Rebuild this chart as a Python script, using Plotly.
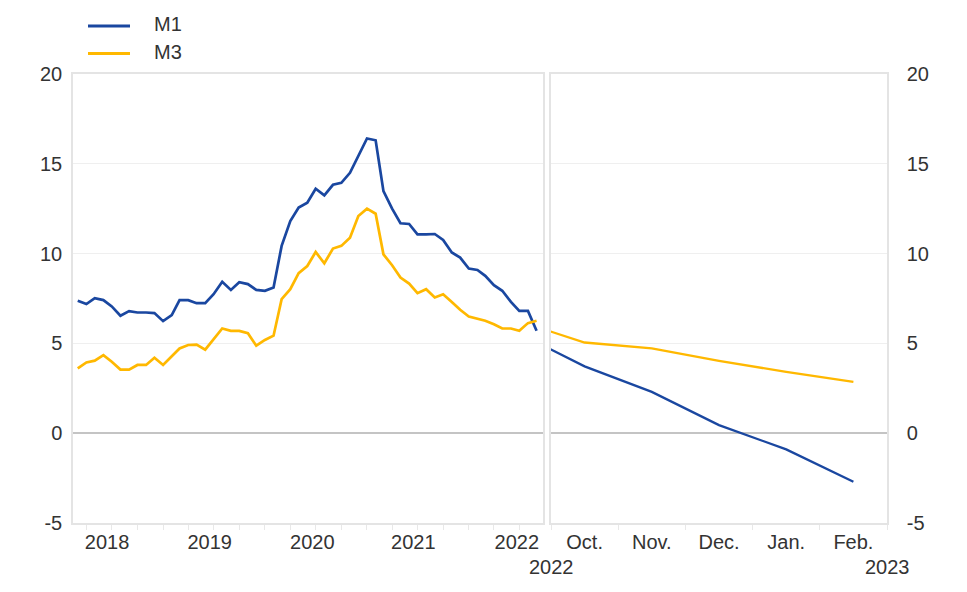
import plotly.graph_objects as go
import pandas as pd

# ---- data: left panel (monthly, Mar 2018 - Sep 2022) ----
hist_months = pd.date_range("2018-03-01", "2022-09-01", freq="MS")
m1_hist = [7.37, 7.19, 7.52, 7.41, 7.06, 6.54, 6.80, 6.72, 6.72, 6.69,
           6.24, 6.57, 7.41, 7.41, 7.24, 7.24, 7.74, 8.43, 7.98, 8.41,
           8.30, 7.98, 7.93, 8.11, 10.43, 11.81, 12.56, 12.83, 13.61, 13.24,
           13.83, 13.94, 14.50, 15.43, 16.41, 16.31, 13.48, 12.50, 11.69, 11.65,
           11.07, 11.07, 11.09, 10.76, 10.06, 9.78, 9.17, 9.09, 8.76, 8.24,
           7.93, 7.31, 6.81, 6.81, 5.70]
m3_hist = [3.61, 3.94, 4.04, 4.35, 3.98, 3.54, 3.54, 3.80, 3.80, 4.20,
           3.80, 4.26, 4.72, 4.91, 4.93, 4.65, 5.24, 5.83, 5.70, 5.70,
           5.57, 4.87, 5.19, 5.43, 7.46, 8.02, 8.91, 9.31, 10.09, 9.46,
           10.28, 10.43, 10.89, 12.09, 12.50, 12.22, 9.96, 9.35, 8.67, 8.33,
           7.80, 8.02, 7.56, 7.74, 7.31, 6.87, 6.50, 6.39, 6.26, 6.07,
           5.83, 5.83, 5.70, 6.13, 6.26]

# ---- data: right panel (Sep 2022 - Feb 2023) ----
recent_months = ["Sep.", "Oct.", "Nov.", "Dec.", "Jan.", "Feb."]
m1_recent = [5.60, 3.72, 2.30, 0.45, -0.90, -2.70]
m3_recent = [6.26, 5.05, 4.72, 4.03, 3.41, 2.86]

series_names = ["M1", "M3"]
year_labels = ["2018", "2019", "2020", "2021", "2022"]
year_tick_pos = ["2018-06-14", "2019-06-17", "2020-06-19", "2021-06-16", "2022-06-22"]
y_ticks = [-5, 0, 5, 10, 15, 20]
y_tick_text = ["-5", "0", "5", "10", "15", "20"]

BLUE = "#1a47a0"
YELLOW = "#ffb800"
GRID = "#efefef"
BORDER = "#e4e4e4"
TXT = "#333333"
FONT = "Liberation Sans, Arial, sans-serif"
FS = 20
COLORS = [BLUE, YELLOW]

fig = go.Figure()
fig.add_trace(go.Scatter(x=hist_months, y=m1_hist, mode="lines", name=series_names[0],
                         showlegend=False,
                         line=dict(color=BLUE, width=2.7), xaxis="x", yaxis="y"))
fig.add_trace(go.Scatter(x=hist_months, y=m3_hist, mode="lines", name=series_names[1],
                         showlegend=False,
                         line=dict(color=YELLOW, width=2.7), xaxis="x", yaxis="y"))
fig.add_trace(go.Scatter(x=recent_months, y=m1_recent, mode="lines", name=series_names[0],
                         showlegend=False, line=dict(color=BLUE, width=2.3),
                         xaxis="x2", yaxis="y2"))
fig.add_trace(go.Scatter(x=recent_months, y=m3_recent, mode="lines", name=series_names[1],
                         showlegend=False, line=dict(color=YELLOW, width=2.3),
                         xaxis="x2", yaxis="y2"))

W, H = 951, 576
L0, L1, R0, R1 = 65, 535, 543, 879
TOP, BOT = 66, 515
PH = BOT - TOP

common_y = dict(range=[-5, 20], tickvals=y_ticks, ticktext=y_tick_text,
                showgrid=True, gridcolor=GRID,
                gridwidth=1, zeroline=True, zerolinecolor="#c4c4c4", zerolinewidth=2,
                showline=True, linecolor=BORDER, linewidth=1.5, mirror=True,
                ticks="", tickfont=dict(size=FS, color=TXT, family=FONT))

fig.update_layout(
    width=W, height=H,
    margin=dict(l=0, r=0, t=TOP, b=H - BOT),
    paper_bgcolor="white", plot_bgcolor="white",
    font=dict(family=FONT, size=FS, color=TXT),
    showlegend=False,
    xaxis=dict(domain=[L0 / W, L1 / W], type="date",
               range=["2018-02-12", "2022-09-24"],
               tickvals=year_tick_pos, ticktext=year_labels,
               ticks="", showgrid=False, zeroline=False,
               showline=True, linecolor=BORDER, linewidth=1.5, mirror=True,
               tickfont=dict(size=FS, color=TXT, family=FONT),
               minor=dict(tickmode="linear", tick0="2018-01-01", dtick="M3",
                          ticks="outside", ticklen=5, tickcolor="#e8e8e8",
                          tickwidth=1, showgrid=False),
               anchor="y"),
    yaxis=dict(domain=[0, 1], anchor="x", side="left", ticklabelstandoff=5,
               **common_y),
    xaxis2=dict(domain=[R0 / W, R1 / W], type="category", range=[0.5, 5.5],
                ticks="outside", tickson="boundaries", ticklen=5,
                tickcolor="#e8e8e8", showgrid=False, zeroline=False,
                showline=True, linecolor=BORDER, linewidth=1.5, mirror=True,
                tickfont=dict(size=FS, color=TXT, family=FONT),
                anchor="y2"),
    yaxis2=dict(domain=[0, 1], anchor="x2", side="right", ticklabelstandoff=14,
                **common_y),
)

# legend (drawn as key lines + labels, top-left)
legend_rows_px = [18, 45.5]
for name, col, py in zip(series_names, COLORS, legend_rows_px):
    yp = (BOT - py) / PH
    fig.add_shape(type="line", xref="paper", yref="paper",
                  x0=80 / W, x1=122 / W, y0=yp, y1=yp,
                  line=dict(color=col, width=3))
    fig.add_annotation(text=name, x=144 / W, y=yp + 1.5 / PH, xref="paper", yref="paper",
                       xanchor="left", yanchor="middle", showarrow=False,
                       font=dict(size=FS, color=TXT, family=FONT))

fig.add_annotation(text="2022", x=R0 / W, y=-0.098, xref="paper", yref="paper",
                   xanchor="center", yanchor="middle", showarrow=False,
                   font=dict(size=FS, color=TXT, family=FONT))
fig.add_annotation(text="2023", x=R1 / W, y=-0.098, xref="paper", yref="paper",
                   xanchor="center", yanchor="middle", showarrow=False,
                   font=dict(size=FS, color=TXT, family=FONT))

fig.write_html("out.html")
